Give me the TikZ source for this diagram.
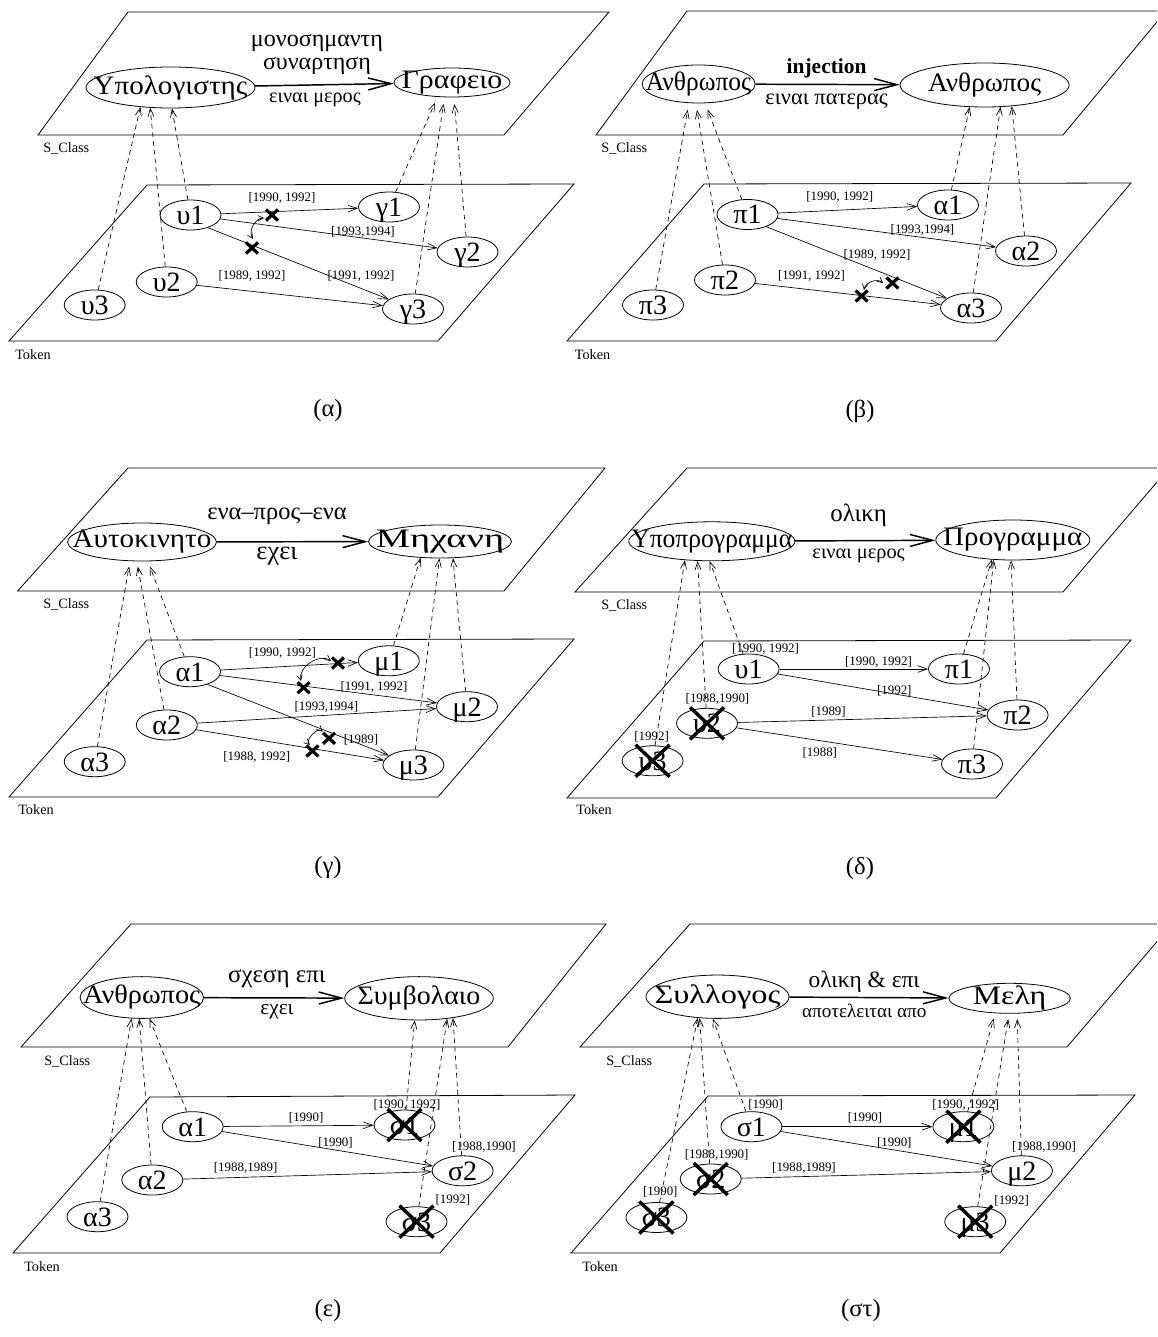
\documentclass[tikz,border=0pt]{standalone}
\usepackage{fontspec}
\setmainfont{Liberation Serif}
\usepackage{graphicx}
\usetikzlibrary{arrows.meta,calc,shapes.geometric}
\newcommand\fw[2]{\resizebox{#1pt}{!}{#2}}
\newcommand\cn[2]{\resizebox{#1pt}{\height}{\fontsize{20}{20}\selectfont #2}}
\newcommand\lblsize{\fontsize{9.7}{10}\selectfont}
\newcommand\plsize{\fontsize{10.7}{11}\selectfont}
\newcommand\toksize{\fontsize{21}{21}\selectfont}
\newcommand\capsize{\fontsize{18.5}{18.5}\selectfont}
\tikzset{
  plane/.style={draw,line width=0.6pt},
  cls/.style={draw,ellipse,inner sep=0pt,line width=0.6pt},
  ctext/.style={inner sep=0pt},
  tok/.style={draw,ellipse,inner sep=0pt,line width=0.6pt,minimum width=45.75pt,minimum height=22.5pt,font=\toksize,text height=14pt,text depth=0pt},
  rel/.style={line width=1.1pt,-{Straight Barb[length=17pt,width=9pt]}},
  tedge/.style={line width=0.5pt,-{Straight Barb[length=7pt,width=5pt]}},
  inst/.style={line width=0.5pt,dash pattern=on 3.5pt off 3pt,-{Straight Barb[length=6pt,width=4.5pt]}},
  lbl/.style={font=\lblsize,inner sep=0pt},
  pl/.style={font=\plsize,inner sep=0pt,anchor=west},
  capt/.style={font=\capsize,inner sep=0pt},
  bigx/.style={line width=2.6pt},
  curv/.style={line width=0.5pt,{Straight Barb[length=4pt,width=4pt]}-{Straight Barb[length=4pt,width=4pt]}},
  xmk/.pic={\draw[line width=2.4pt] (-6,-5.5) -- (6,5.5) (-6,5.5) -- (6,-5.5);}
}
\newcommand\xnode[1]{\draw[bigx] ($(#1)+(-17,-16)$) -- ($(#1)+(17,16)$) ($(#1)+(-17,16)$) -- ($(#1)+(17,-16)$);}
\begin{document}
\begin{tikzpicture}[x=0.75pt,y=-0.75pt]
\useasboundingbox (0,0) rectangle (1157,1337);
\clip (0,0) rectangle (1157,1337);

% ================= (alpha)
\draw[plane] (38,135) -- (128,12) -- (609,12) -- (504,135) -- cycle;
\node[pl] (aSC) at (43,148) {S\_Class};
\draw[plane] (9,341) -- (147,185) -- (574,184) -- (438,341) -- cycle;
\node[pl] (aTK) at (15,355) {Token};
\node[cls,minimum width=126.75pt,minimum height=30.75pt] (aC1) at (170.5,87.5) {};
\node[ctext] (aC1t) at (aC1) {\cn{115.5}{Υπολογιστης}};
\node[cls,minimum width=87pt,minimum height=21.75pt] (aC2) at (452,82.5) {};
\node[ctext] (aC2t) at (aC2) {\cn{75.6}{Γραφειο}};
\draw[rel] (aC1) -- (aC2);
\node[ctext] (aR1) at (317,43) {\fw{99}{μονοσημαντη}};
\node[ctext] (aR2) at (317,66) {\fw{81}{συναρτηση}};
\node[ctext] (aR3) at (315,100) {\fw{68.8}{ειναι μερος}};
\node[tok] (au1) at (190.5,215) {υ1};
\node[tok] (ag1) at (389,207) {γ1};
\node[tok] (ag2) at (467.5,252) {γ2};
\node[tok] (au2) at (166.7,282) {υ2};
\node[tok] (au3) at (94.7,305) {υ3};
\node[tok] (ag3) at (413,309) {γ3};
\draw[tedge] (au1) -- (ag1);
\draw[tedge] (au1) -- (ag2);
\draw[tedge] (au1.-36) -- (ag3);
\draw[tedge] (au2) -- (ag3);
\node[lbl] (aL1) at (282,198) {[1990, 1992]};
\node[lbl] (aL2) at (363,232) {[1993,1994]};
\node[lbl] (aL3) at (252,276) {[1989, 1992]};
\node[lbl] (aL4) at (361,276) {[1991, 1992]};
\coordinate (aX1) at (272,215);
\coordinate (aX2) at (252,248);
\pic at (aX1) {xmk};
\pic at (aX2) {xmk};
\coordinate (aK1) at (264,218);
\coordinate (aK2) at (253,239);
\draw[curv] (aK1) to[bend right=60] (aK2);
\draw[inst] (au3) -- (aC1.213);
\draw[inst] (au2) -- (aC1.225);
\draw[inst] (au1) -- (aC1.274);
\draw[inst,shorten >=5pt] (ag1) -- (aC2.225);
\draw[inst,shorten >=5pt] (ag3) -- (aC2.243);
\draw[inst,shorten >=5pt] (ag2) -- (aC2.277);
\node[capt] (aCap) at (328,411) {(α)};

% ================= (beta)
\draw[plane] (596,135) -- (687,11) -- (1166,11) -- (1063,135) -- cycle;
\node[pl] (bSC) at (601,148) {S\_Class};
\draw[plane] (567,341) -- (704,184) -- (1131,183) -- (996,341) -- cycle;
\node[pl] (bTK) at (574.5,355) {Token};
\node[cls,minimum width=84.75pt,minimum height=28.5pt] (bC1) at (698.6,84) {};
\node[ctext] (bC1t) at (bC1) {\cn{79}{Ανθρωπος}};
\node[cls,minimum width=126.75pt,minimum height=33pt] (bC2) at (984.6,85) {};
\node[ctext] (bC2t) at (bC2) {\cn{84.7}{Ανθρωπος}};
\draw[rel] (bC1) -- (bC2);
\node[ctext] (bR1) at (826.6,68) {\fw{59.9}{\textbf{injection}}};
\node[ctext] (bR2) at (826.6,102) {\fw{91.7}{ειναι πατερας}};
\node[tok] (bp1) at (747.5,214.5) {π1};
\node[tok] (ba1) at (948,205) {α1};
\node[tok] (ba2) at (1026,251) {α2};
\node[tok] (bp2) at (725,280) {π2};
\node[tok] (bp3) at (653,305) {π3};
\node[tok] (ba3) at (971,308) {α3};
\draw[tedge] (bp1) -- (ba1);
\draw[tedge] (bp1) -- (ba2);
\draw[tedge] (bp1.-33) -- (ba3);
\draw[tedge] (bp2) -- (ba3);
\node[lbl] (bL1) at (839.8,196.7) {[1990, 1992]};
\node[lbl] (bL2) at (922.5,230) {[1993,1994]};
\node[lbl] (bL3) at (877,255) {[1989, 1992]};
\node[lbl] (bL4) at (811.5,276) {[1991, 1992]};
\coordinate (bX1) at (892.4,283);
\coordinate (bX2) at (861.6,296);
\pic at (bX1) {xmk};
\pic at (bX2) {xmk};
\coordinate (bK1) at (883,283);
\coordinate (bK2) at (864,290);
\draw[curv] (bK1) to[bend right=60] (bK2);
\draw[inst,shorten >=5pt] (bp3) -- (bC1.243);
\draw[inst,shorten >=5pt] (bp2) -- (bC1.262);
\draw[inst,shorten >=5pt] (bp1) -- (bC1.289);
\draw[inst] (ba1) -- (bC2.236);
\draw[inst] (ba3) -- (bC2.306);
\draw[inst] (ba2) -- (bC2.322);
\node[capt] (bCap) at (860,411) {(β)};

% ================= (gamma)
\draw[plane] (17.6,591) -- (128,468) -- (605,468) -- (504,591) -- cycle;
\node[pl] (cSC) at (43,604) {S\_Class};
\draw[plane] (9,797) -- (147,640) -- (574,639) -- (438,797) -- cycle;
\node[pl] (cTK) at (18,810) {Token};
\node[cls,minimum width=111.75pt,minimum height=28.5pt] (cC1) at (142,542) {};
\node[ctext] (cC1t) at (cC1) {\cn{104}{Αυτοκινητο}};
\node[cls,minimum width=107.25pt,minimum height=24.75pt] (cC2) at (440,541.5) {};
\node[ctext] (cC2t) at (cC2) {\cn{96.2}{Μηχανη}};
\draw[rel] (cC1) -- (cC2);
\node[ctext] (cR1) at (277,516.7) {\fw{104.5}{ενα–προς–ενα}};
\node[ctext] (cR2) at (277,556) {\fw{30.8}{εχει}};
\node[tok] (ca1) at (190,671.7) {α1};
\node[tok] (cm1) at (388.8,660.8) {μ1};
\node[tok] (cm2) at (467,706.7) {μ2};
\node[tok] (ca2) at (166.8,725) {α2};
\node[tok] (ca3) at (94.7,761.7) {α3};
\node[tok] (cm3) at (413.4,765) {μ3};
\draw[tedge] (ca1) -- (cm1);
\draw[tedge] (ca1) -- (cm2);
\draw[tedge] (ca2) -- (cm2);
\draw[tedge] (ca1.-36) -- (cm3);
\draw[tedge] (ca2) -- (cm3);
\node[lbl] (cL1) at (282.4,653.3) {[1990, 1992]};
\node[lbl] (cL2) at (374,686.7) {[1991, 1992]};
\node[lbl] (cL3) at (326.4,706.7) {[1993,1994]};
\node[lbl] (cL4) at (361,740) {[1989]};
\node[lbl] (cL5) at (256.7,756.7) {[1988, 1992]};
\coordinate (cX1) at (338,663);
\coordinate (cX2) at (303.6,687.7);
\coordinate (cX3) at (329,738.3);
\coordinate (cX4) at (312.4,751);
\pic at (cX1) {xmk};
\pic at (cX2) {xmk};
\pic at (cX3) {xmk};
\pic at (cX4) {xmk};
\coordinate (cK1) at (331,661);
\coordinate (cK2) at (301,681);
\coordinate (cK3) at (322.7,731.7);
\coordinate (cK4) at (309.9,745);
\draw[curv] (cK1) to[bend right=70] (cK2);
\draw[curv] (cK3) to[bend right=90] (cK4);
\draw[inst,shorten >=4pt] (ca3) -- (cC1.238);
\draw[inst,shorten >=4pt] (ca2) -- (cC1.255);
\draw[inst,shorten >=4pt] (ca1) -- (cC1.287);
\draw[inst] (cm1) -- (cC2.220);
\draw[inst] (cm3) -- (cC2.268);
\draw[inst] (cm2) -- (cC2.308);
\node[capt] (cCap) at (328,868) {(γ)};

% ================= (delta)
\draw[plane] (575,592) -- (687,468) -- (1169,468) -- (1063,592) -- cycle;
\node[pl] (dSC) at (601,605) {S\_Class};
\draw[plane] (567,798) -- (704,641) -- (1131,640) -- (996,798) -- cycle;
\node[pl] (dTK) at (576,810) {Token};
\node[cls,minimum width=124.5pt,minimum height=29.25pt] (dC1) at (711.8,541.3) {};
\node[ctext] (dC1t) at (dC1) {\cn{120.8}{Υποπρογραμμα}};
\node[cls,minimum width=115.5pt,minimum height=30pt] (dC2) at (1012.8,540) {};
\node[ctext] (dC2t) at (dC2) {\cn{104.4}{Προγραμμα}};
\draw[rel] (dC1) -- (dC2);
\node[ctext] (dR1) at (858.6,515) {\fw{42.3}{ολικη}};
\node[ctext] (dR2) at (858.6,556) {\fw{69.2}{ειναι μερος}};
\node[tok] (du1) at (748.6,669) {υ1};
\node[tok] (dp1) at (959,669) {π1};
\node[tok] (dp2) at (1017.6,715) {π2};
\node[tok] (du2) at (707,723.3) {υ2};
\node[tok] (du3) at (652.6,760.8) {υ3};
\node[tok] (dp3) at (972,764) {π3};
\xnode{du2}
\xnode{du3}
\draw[tedge] (du1) -- (dp1);
\draw[tedge] (du1) -- (dp2);
\draw[tedge] (du2) -- (dp2);
\draw[tedge] (du2) -- (dp3);
\node[lbl] (dL1) at (878.5,662.3) {[1990, 1992]};
\node[lbl] (dL2) at (894.3,691) {[1992]};
\node[lbl] (dL3) at (828.5,712.3) {[1989]};
\node[lbl] (dL4) at (819.8,753.3) {[1988]};
\node[lbl] (dN1) at (765.6,649) {[1990, 1992]};
\node[lbl] (dN2) at (717.5,699) {[1988,1990]};
\node[lbl] (dN3) at (651.6,736.7) {[1992]};
\draw[inst] (du3) -- (dC1.215);
\draw[inst] (du2) -- (dC1.234);
\draw[inst] (du1) -- (dC1.264);
\draw[inst] (dp1) -- (dC2.223);
\draw[inst] (dp3) -- (dC2.226);
\draw[inst] (dp2) -- (dC2.265);
\node[capt] (dCap) at (860,868) {(δ)};

% ================= (epsilon)
\draw[plane] (21,1047) -- (131,924) -- (606,924) -- (508,1047) -- cycle;
\node[pl] (eSC) at (44,1061) {S\_Class};
\draw[plane] (13,1253) -- (150,1097) -- (575,1095) -- (440,1253) -- cycle;
\node[pl] (eTK) at (24,1267) {Token};
\node[cls,minimum width=92.6pt,minimum height=31.3pt] (eC1) at (141.8,997.5) {};
\node[ctext] (eC1t) at (eC1) {\cn{88}{Ανθρωπος}};
\node[cls,minimum width=111.4pt,minimum height=32.5pt] (eC2) at (419,998.3) {};
\node[ctext] (eC2t) at (eC2) {\cn{92.1}{Συμβολαιο}};
\draw[rel] (eC1) -- (eC2);
\node[ctext] (eR1) at (276.9,979) {\fw{73.1}{σχεση επι}};
\node[ctext] (eR2) at (276.9,1011.7) {\fw{24.8}{εχει}};
\node[tok] (ea1) at (192.7,1126.7) {α1};
\node[tok] (es1) at (404.5,1125) {σ1};
\node[tok] (es2) at (462.6,1170.8) {σ2};
\node[tok] (ea2) at (152.3,1180) {α2};
\node[tok] (ea3) at (97.5,1216.7) {α3};
\node[tok] (es3) at (416.5,1221.7) {σ3};
\xnode{es1}
\xnode{es3}
\draw[tedge] (ea1) -- (es1);
\draw[tedge] (ea1) -- (es2);
\draw[tedge] (ea2) -- (es2);
\node[lbl] (eL1) at (306.2,1118.3) {[1990]};
\node[lbl] (eL2) at (335.5,1142.7) {[1990]};
\node[lbl] (eL3) at (245.7,1168.3) {[1988,1989]};
\node[lbl] (eN1) at (407,1105) {[1990, 1992]};
\node[lbl] (eN2) at (484,1146.7) {[1988,1990]};
\node[lbl] (eN3) at (452.9,1200) {[1992]};
\draw[inst] (ea3) -- (eC1.244);
\draw[inst] (ea2) -- (eC1.263);
\draw[inst] (ea1) -- (eC1.290);
\draw[inst] (es1) -- (eC2.259);
\draw[inst] (es3) -- (eC2.324);
\draw[inst] (es2) -- (eC2.330);
\node[capt] (eCap) at (328,1311) {(ε)};

% ================= (sigma tau)
\draw[plane] (580,1047) -- (690,924) -- (1172,924) -- (1067,1047) -- cycle;
\node[pl] (fSC) at (606,1061) {S\_Class};
\draw[plane] (571,1253) -- (708,1096) -- (1135,1095) -- (1000,1253) -- cycle;
\node[pl] (fTK) at (582,1267) {Token};
\node[cls,minimum width=107.25pt,minimum height=32.5pt] (fC1) at (717.5,996.7) {};
\node[ctext] (fC1t) at (fC1) {\cn{94.5}{Συλλογος}};
\node[cls,minimum width=91.1pt,minimum height=22.5pt] (fC2) at (1009.6,998.3) {};
\node[ctext] (fC2t) at (fC2) {\cn{55}{Μελη}};
\draw[rel] (fC1) -- (fC2);
\node[ctext] (fR1) at (864.2,981.7) {\fw{83.3}{ολικη \& επι}};
\node[ctext] (fR2) at (864.2,1010.8) {\fw{93.2}{αποτελειται απο}};
\node[tok] (fs1) at (751.4,1126.7) {σ1};
\node[tok] (fm1) at (963.4,1126.7) {μ1};
\node[tok] (fm2) at (1021.9,1170.8) {μ2};
\node[tok] (fs2) at (710.7,1179) {σ2};
\node[tok] (fs3) at (656.4,1217.5) {σ3};
\node[tok] (fm3) at (975.2,1221.7) {μ3};
\xnode{fm1}
\xnode{fs2}
\xnode{fs3}
\xnode{fm3}
\draw[tedge] (fs1) -- (fm1);
\draw[tedge] (fs1) -- (fm2);
\draw[tedge] (fs2) -- (fm2);
\node[lbl] (fL1) at (865,1118.3) {[1990]};
\node[lbl] (fL2) at (894.3,1142.7) {[1990]};
\node[lbl] (fL3) at (804,1168.3) {[1988,1989]};
\node[lbl] (fN1) at (765.6,1105) {[1990]};
\node[lbl] (fN2) at (716.7,1155) {[1988,1990]};
\node[lbl] (fN3) at (965.8,1105) {[1990, 1992]};
\node[lbl] (fN4) at (1044,1146.7) {[1988,1990]};
\node[lbl] (fN5) at (1011.7,1200.7) {[1992]};
\node[lbl] (fN6) at (660.3,1191.7) {[1990]};
\draw[inst] (fs3) -- (fC1.227);
\draw[inst] (fs2) -- (fC1.230);
\draw[inst] (fs1) -- (fC1.258);
\draw[inst,shorten >=4pt] (fm1) -- (fC2.226);
\draw[inst,shorten >=4pt] (fm3) -- (fC2.268);
\draw[inst,shorten >=4pt] (fm2) -- (fC2.296);
\node[capt] (fCap) at (861,1311) {(στ)};
\end{tikzpicture}
\end{document}
